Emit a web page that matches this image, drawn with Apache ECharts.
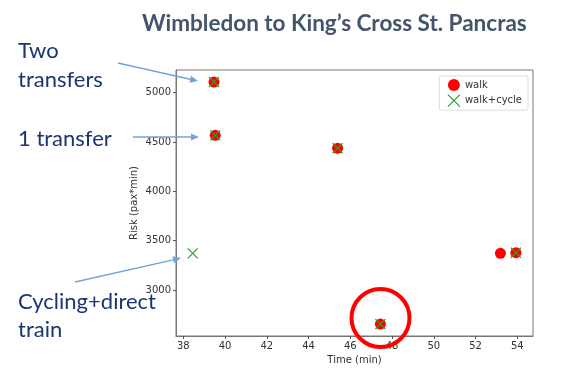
<!DOCTYPE html>
<html>
<head>
<meta charset="utf-8">
<script src="https://cdn.jsdelivr.net/npm/echarts@6/dist/echarts.min.js"></script>
<style>html,body{margin:0;padding:0;background:#fff}#c{width:573px;height:375px}</style>
</head>
<body>
<div id="c"></div>
<script>
// Data
const walkTime = [39.47, 39.53, 45.39, 53.19, 53.93, 47.44];
const walkRisk = [5108, 4568, 4437, 3372, 3378, 2655];
const cycleTime = [39.47, 39.53, 45.39, 53.93, 47.44, 38.45];
const cycleRisk = [5108, 4568, 4437, 3378, 2655, 3372];
const xTicks = [38, 40, 42, 44, 46, 48, 50, 52, 54];
const yTicks = [3000, 3500, 4000, 4500, 5000];
const seriesNames = ['walk', 'walk+cycle'];
const titleText = 'Wimbledon to King\u2019s Cross St. Pancras';
const xLabel = 'Time (min)';
const yLabel = 'Risk (pax*min)';

const walkData = walkTime.map((t, i) => [t, walkRisk[i]]);
const cycleData = cycleTime.map((t, i) => [t, cycleRisk[i]]);
const xPath = 'path://M0,0L10,10M10,0L0,10';
const annFont = 'Lato, "Open Sans", sans-serif';
const annColor = '#1a3571';
const arrowColor = '#6fa5dc';

function arrow(x1, y1, x2, y2) {
  const a = Math.atan2(y2 - y1, x2 - x1);
  const L = 8, W = 3.5;
  const bx = x2 - L * Math.cos(a), by = y2 - L * Math.sin(a);
  const px = -Math.sin(a) * W, py = Math.cos(a) * W;
  return [
    { type: 'line', shape: { x1, y1, x2: bx, y2: by }, style: { stroke: arrowColor, lineWidth: 1.3 }, z: 10 },
    { type: 'polygon', shape: { points: [[x2, y2], [bx + px, by + py], [bx - px, by - py]] }, style: { fill: arrowColor }, z: 10 }
  ];
}

const chart = echarts.init(document.getElementById('c'));
chart.setOption({
  animation: false,
  grid: { left: 176, right: 40, top: 70, bottom: 39, show: true, borderColor: '#777', borderWidth: 1 },
  xAxis: {
    type: 'value', min: 37.65, max: 54.75,
    name: xLabel, nameLocation: 'middle', nameGap: 19, nameMoveOverlap: false,
    nameTextStyle: { fontSize: 10, color: '#333', fontFamily: 'DejaVu Sans' },
    axisLine: { show: true, onZero: false, lineStyle: { color: '#777' } },
    axisTick: { show: true, length: 3, customValues: xTicks, lineStyle: { color: '#555' } },
    axisLabel: { customValues: xTicks, fontSize: 10, color: '#333', margin: 5, fontFamily: 'DejaVu Sans', formatter: v => String(v) },
    splitLine: { show: false }
  },
  yAxis: {
    type: 'value', min: 2534, max: 5230,
    name: yLabel, nameLocation: 'middle', nameGap: 37, nameRotate: 90, nameMoveOverlap: false,
    nameTextStyle: { fontSize: 10, color: '#333', fontFamily: 'DejaVu Sans' },
    axisLine: { show: true, onZero: false, lineStyle: { color: '#777' } },
    axisTick: { show: true, length: 3, customValues: yTicks, lineStyle: { color: '#555' } },
    axisLabel: { customValues: yTicks, fontSize: 10, color: '#333', margin: 5, fontFamily: 'DejaVu Sans', formatter: v => String(v) },
    splitLine: { show: false }
  },
  legend: {
    right: 45, top: 76, orient: 'vertical', itemWidth: 12, itemHeight: 12, itemGap: 3,
    backgroundColor: '#fff', borderColor: '#ddd', borderWidth: 1, borderRadius: 2, padding: [3, 6, 3, 8],
    textStyle: { fontSize: 10, color: '#333', fontFamily: 'DejaVu Sans' },
    data: [
      { name: seriesNames[0], icon: 'circle' },
      { name: seriesNames[1], icon: xPath, itemStyle: { color: 'transparent', borderColor: '#2ca02c', borderWidth: 1.2 } }
    ]
  },
  series: [
    { name: seriesNames[0], type: 'scatter', data: walkData, symbol: 'circle', symbolSize: 11, itemStyle: { color: '#ff0000', opacity: 1 }, z: 2 },
    { name: seriesNames[1], type: 'scatter', data: cycleData, symbol: xPath, symbolSize: 10, itemStyle: { color: 'transparent', borderColor: '#2ca02c', borderWidth: 1.2, opacity: 1 }, z: 3 }
  ],
  graphic: [
    { type: 'text', x: 142, y: 12, style: { text: titleText, font: 'bold 22.5px ' + annFont, fill: '#44546a' }, z: 10 },
    { type: 'text', x: 18, y: 36, style: { text: 'Two\ntransfers', font: '22px ' + annFont, fill: annColor, lineHeight: 29 }, z: 10 },
    { type: 'text', x: 18, y: 124, style: { text: '1 transfer', font: '22px ' + annFont, fill: annColor, lineHeight: 29 }, z: 10 },
    { type: 'text', x: 18, y: 288, style: { text: 'Cycling+direct\ntrain', font: '22px ' + annFont, fill: annColor, lineHeight: 28 }, z: 10 },
    ...arrow(118, 63, 198, 81),
    ...arrow(133, 137, 199, 137),
    ...arrow(75, 282, 181, 258),
    { type: 'circle', shape: { cx: 380.5, cy: 318, r: 29 }, style: { fill: 'none', stroke: '#ff0000', lineWidth: 4 }, z: 10 }
  ]
});
</script>
</body>
</html>
